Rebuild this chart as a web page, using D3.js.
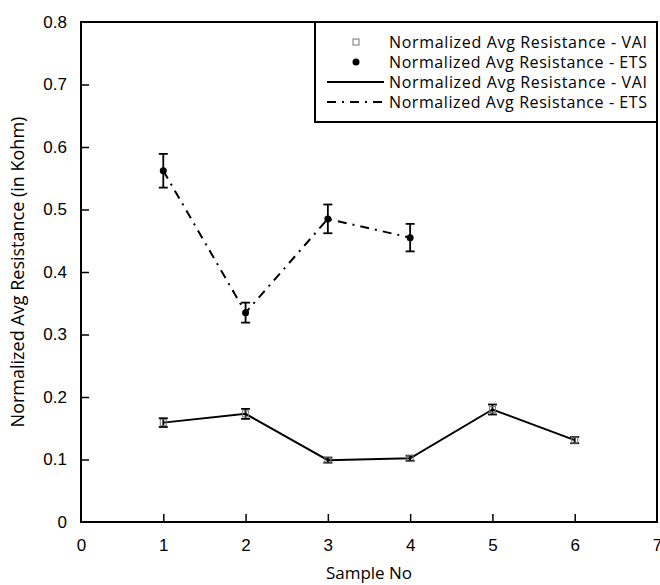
<!DOCTYPE html>
<html>
<head>
<meta charset="utf-8">
<style>
    body { margin: 0; background: white; }
    svg { font-family: 'Open Sans', sans-serif; }
    .axis .domain { display: none; }
    .axis .tick line { stroke: black; stroke-width: 1.5px; }
    .axis .tick text { font-size: 17px; fill: black; }
</style>
</head>
<body>
<svg width="660" height="585"></svg>
<script src="https://d3js.org/d3.v7.min.js"></script>
<script>
    // data
    let samples = [1, 2, 3, 4, 5, 6];
    let vaiValues = [0.159, 0.173, 0.099, 0.102, 0.180, 0.131];
    let vaiErrors = [0.007, 0.008, 0.004, 0.004, 0.008, 0.005];
    let etsSamples = [1, 2, 3, 4];
    let etsValues = [0.562, 0.335, 0.485, 0.455];
    let etsErrors = [0.027, 0.016, 0.023, 0.022];
    let xTicks = [0, 1, 2, 3, 4, 5, 6, 7];
    let yTicks = [0, 0.1, 0.2, 0.3, 0.4, 0.5, 0.6, 0.7, 0.8];
    let legendLabels = [
        "Normalized Avg Resistance - VAI",
        "Normalized Avg Resistance - ETS",
        "Normalized Avg Resistance - VAI",
        "Normalized Avg Resistance - ETS"
    ];

    let margin = { top: 22, right: 3, bottom: 63, left: 81 };
    let width = 660, height = 585;

    let svg = d3.select("svg");

    let x = d3.scaleLinear().domain([0, 7]).range([margin.left, width - margin.right]);
    let y = d3.scaleLinear().domain([0, 0.8]).range([height - margin.bottom, margin.top]);

    let vai = samples.map((s, i) => ({ s: s, v: vaiValues[i], e: vaiErrors[i] }));
    let ets = etsSamples.map((s, i) => ({ s: s, v: etsValues[i], e: etsErrors[i] }));

    // axes with inward ticks
    svg.append("g")
        .attr("class", "x axis")
        .attr("transform", `translate(0,${y(0)})`)
        .call(d3.axisBottom(x).tickValues(xTicks).tickFormat(d3.format("d")).tickSize(-8).tickPadding(17));

    svg.append("g")
        .attr("class", "y axis")
        .attr("transform", `translate(${x(0)},0)`)
        .call(d3.axisLeft(y).tickValues(yTicks).tickFormat(d => d === 0 ? "0" : d3.format(".1f")(d)).tickSize(-8).tickPadding(14));

    // hide tick marks that sit on the frame corners
    svg.selectAll(".x .tick line").filter(d => d === 0 || d === 7).remove();
    svg.selectAll(".y .tick line").filter(d => d === 0 || d === 0.8).remove();

    // frame
    svg.append("rect")
        .attr("x", x(0)).attr("y", y(0.8))
        .attr("width", x(7) - x(0)).attr("height", y(0) - y(0.8))
        .style("fill", "none").style("stroke", "black").style("stroke-width", 2);

    // lines
    let line = d3.line().x(d => x(d.s)).y(d => y(d.v));

    svg.append("path")
        .attr("d", line(vai))
        .style("fill", "none").style("stroke", "black").style("stroke-width", 2);

    svg.append("path")
        .attr("d", line(ets))
        .style("fill", "none").style("stroke", "black").style("stroke-width", 2)
        .style("stroke-dasharray", "9,6,2,6");

    // error bars
    function errorBars(data) {
        let g = svg.append("g");
        g.selectAll(".ev").data(data).join("line")
            .attr("x1", d => x(d.s)).attr("x2", d => x(d.s))
            .attr("y1", d => y(d.v - d.e)).attr("y2", d => y(d.v + d.e))
            .style("stroke", "black").style("stroke-width", 1.8);
        g.selectAll(".et").data(data).join("line")
            .attr("x1", d => x(d.s) - 4.5).attr("x2", d => x(d.s) + 4.5)
            .attr("y1", d => y(d.v + d.e)).attr("y2", d => y(d.v + d.e))
            .style("stroke", "black").style("stroke-width", 1.8);
        g.selectAll(".eb").data(data).join("line")
            .attr("x1", d => x(d.s) - 4.5).attr("x2", d => x(d.s) + 4.5)
            .attr("y1", d => y(d.v - d.e)).attr("y2", d => y(d.v - d.e))
            .style("stroke", "black").style("stroke-width", 1.8);
    }
    errorBars(vai);
    errorBars(ets);

    // markers
    svg.selectAll(".sq").data(vai).join("rect")
        .attr("x", d => x(d.s) - 3).attr("y", d => y(d.v) - 3)
        .attr("width", 6).attr("height", 6)
        .style("fill", "none").style("stroke", "#777").style("stroke-width", 1);

    svg.selectAll(".dot").data(ets).join("circle")
        .attr("cx", d => x(d.s)).attr("cy", d => y(d.v))
        .attr("r", 3.5)
        .style("fill", "black");

    // legend
    let legend = svg.append("g");
    legend.append("rect")
        .attr("x", 315).attr("y", margin.top)
        .attr("width", width - margin.right - 315).attr("height", 100)
        .style("fill", "white").style("stroke", "black").style("stroke-width", 2);

    legendLabels.forEach(function (label, i) {
        let ly = margin.top + 20 + i * 20;
        if (i === 0) {
            legend.append("rect").attr("x", 353).attr("y", ly - 3).attr("width", 6).attr("height", 6)
                .style("fill", "none").style("stroke", "#777").style("stroke-width", 1);
        } else if (i === 1) {
            legend.append("circle").attr("cx", 356).attr("cy", ly).attr("r", 3.5).style("fill", "black");
        } else {
            legend.append("line").attr("x1", 327).attr("x2", 384).attr("y1", ly).attr("y2", ly)
                .style("stroke", "black").style("stroke-width", 1.8)
                .style("stroke-dasharray", i === 3 ? "9,6,2,6" : null);
        }
        legend.append("text").text(label)
            .attr("x", 389).attr("y", ly + 6)
            .attr("font-size", "16px").attr("fill", "black")
            .attr("textLength", 258).attr("lengthAdjust", "spacing");
    });

    // axis titles
    svg.append("text").text("Sample No")
        .attr("x", (x(0) + x(7)) / 2).attr("y", 579)
        .attr("text-anchor", "middle").attr("font-size", "17px");

    svg.append("text").text("Normalized Avg Resistance (in Kohm)")
        .attr("transform", `translate(24,${(y(0) + y(0.8)) / 2}) rotate(-90)`)
        .attr("text-anchor", "middle").attr("font-size", "18px");
</script>
</body>
</html>
